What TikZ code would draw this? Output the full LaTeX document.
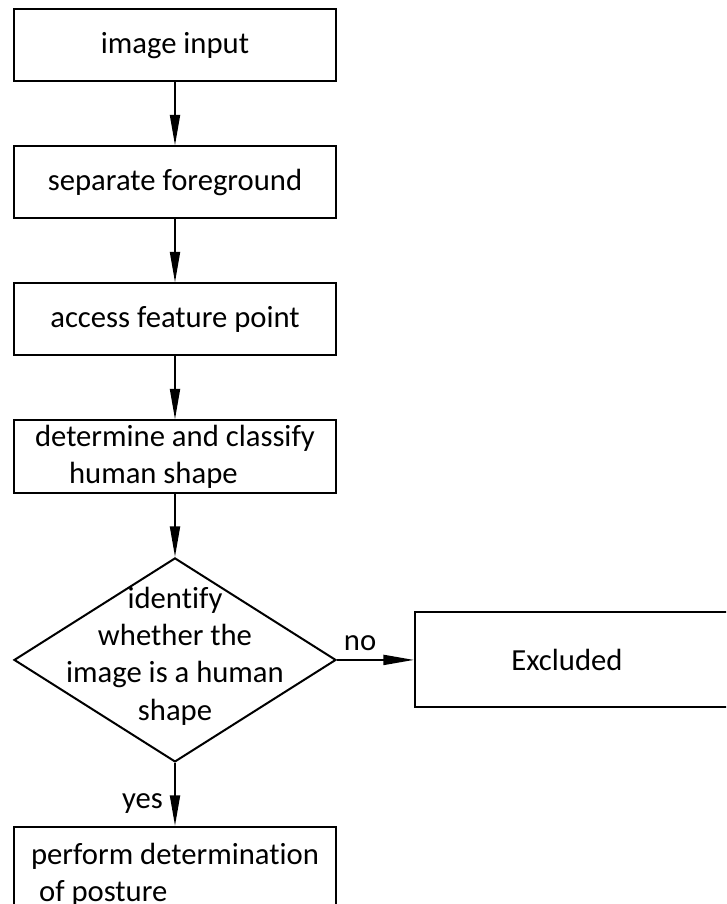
\documentclass[tikz,border=0pt]{standalone}
\usepackage{fontspec}
\setmainfont{Carlito}[Ligatures=NoCommon]
\usetikzlibrary{positioning,shapes.geometric,arrows.meta}

\begin{document}
\begin{tikzpicture}[
  node distance=47.25pt,
  stepbox/.style={rectangle, draw=black, line width=1.5pt, fill=white,
                  minimum width=241.5pt, minimum height=54pt},
  decide/.style={diamond, draw=black, line width=1.5pt, fill=white,
                 minimum width=241.5pt, minimum height=153pt, inner sep=0pt},
  flow/.style={draw, line width=1.5pt, -{Triangle[length=23pt, width=7.5pt]}},
  every node/.style={font=\fontsize{23}{28}\selectfont}
]
\clip (0,0) rectangle (544.5pt,-678pt);

% ==========================================================
% Steps
% ==========================================================
\node[stepbox] (input) at (131.25pt,-34.1pt) {image input};
\node[stepbox, below=of input] (separate) {separate foreground};
\node[stepbox, below=of separate] (feature) {access feature point};
\node[stepbox, below=of feature, align=left] (classify) {determine and classify\\\hspace*{25.5pt}human shape};
\node[decide, below=of classify] (decision) {};
\node[align=center, yshift=3pt] (decisiontext) at (decision) {identify\\whether the\\image is a human\\shape};
\node[stepbox, right=57.75pt of decision, minimum width=255pt, minimum height=71.25pt] (excluded) {Excluded\hspace*{27pt}};
\node[stepbox, below=of decision, minimum height=72pt, align=left] (posture) {perform determination\\\hspace*{6pt}of posture};

% ==========================================================
% Connectors
% ==========================================================
\draw[flow] (input) -- (separate);
\draw[flow] (separate) -- (feature);
\draw[flow] (feature) -- (classify);
\draw[flow] (classify) -- (decision);
\draw[flow] (decision) -- node[pos=0.3, above, yshift=3pt]{no} (excluded);
\draw[flow] (decision) -- node[pos=0.65, left, xshift=-5pt]{yes} (posture);

\end{tikzpicture}
\end{document}
